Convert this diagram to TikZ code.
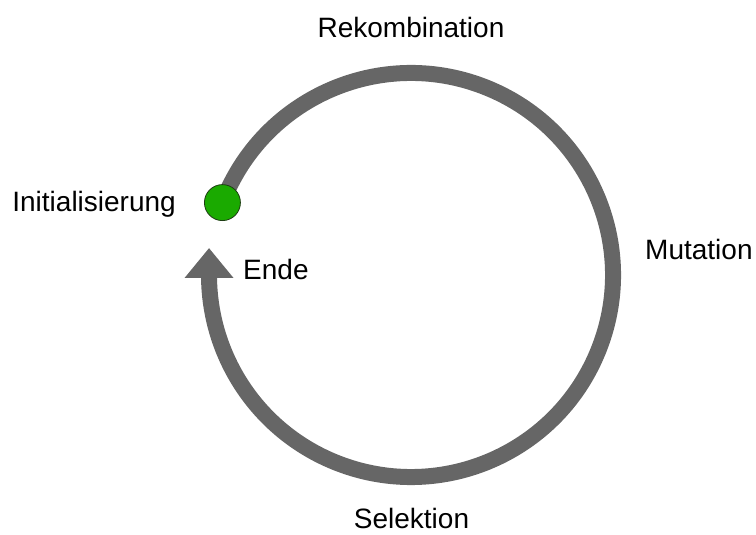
\documentclass[tikz,border=0pt]{standalone}
\usepackage{fontspec}
\setmainfont{Liberation Sans}
\usetikzlibrary{arrows.meta}
\pgfdeclarelayer{bg}
\pgfsetlayers{bg,main}
\definecolor{ringgray}{RGB}{102,102,102}
\definecolor{dotgreen}{RGB}{26,170,0}
\definecolor{dotedge}{RGB}{30,60,20}
\begin{document}
\begin{tikzpicture}[x=1pt,y=1pt,
  stagetext/.style={font=\fontsize{28}{34}\selectfont, inner sep=0pt},
  cyclearrow/.style={draw=ringgray, line width=16pt, -{Triangle[length=30pt,width=47pt]}},
  startdot/.style={circle, fill=dotgreen, draw=dotedge, line width=0.8pt, minimum size=36pt, inner sep=0pt}]
\useasboundingbox (0,0) rectangle (756,535);
% centre of the cycle
\coordinate (c) at (411,260);
% start point of the loop
\node[startdot] (init) at ([shift={(159:202)}]c) {};
% the cycle itself, running clockwise back up to the start
\begin{pgfonlayer}{bg}
\draw[cyclearrow] (init.center) arc[start angle=159, end angle=-179.15, radius=202]
  -- ++(0,30) coordinate (ende);
\end{pgfonlayer}
% stage labels
\node[stagetext, anchor=base] (rek) at (411,497) {Rekombination};
\node[stagetext, anchor=base west] (mut) at (645,275) {Mutation};
\node[stagetext, anchor=base] (sel) at (411.5,6) {Selektion};
\node[stagetext, anchor=base east] (ini) at (176,323) {Initialisierung};
\node[stagetext, anchor=base west] (fin) at (243,255) {Ende};
\end{tikzpicture}
\end{document}
